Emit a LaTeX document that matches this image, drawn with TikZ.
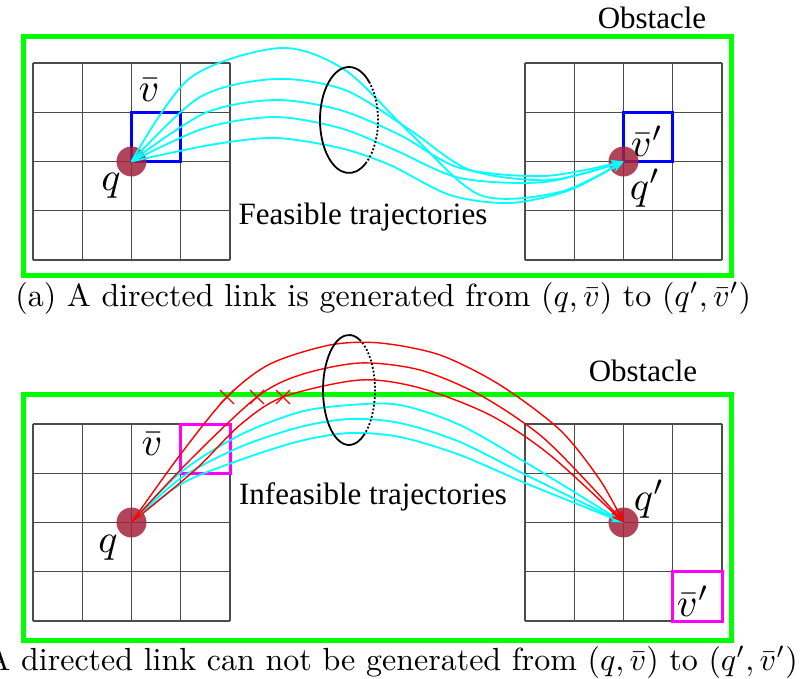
\documentclass[tikz,border=0pt]{standalone}
\usepackage{fontspec}
\usetikzlibrary{arrows.meta}
\newfontfamily\timesfont{Liberation Serif}
\definecolor{dotred}{RGB}{165,35,60}
\definecolor{trajcyan}{RGB}{0,255,255}
\definecolor{boxpink}{RGB}{255,0,255}
\definecolor{obstgreen}{RGB}{0,255,0}

\tikzset{
	obst/.style={draw=obstgreen, line width=5pt},
	cell/.style={draw=black!70, line width=1.1pt},
	traj/.style={trajcyan, line width=1.8pt, ->},
	bad/.style={red, line width=1.4pt, ->},
	cross/.style={red, line width=1.4pt},
	robot/.style={circle, fill=dotred, fill opacity=.85, minimum size=30pt, inner sep=0pt},
	lbl/.style={scale=4},
	txt/.style={font=\timesfont\fontsize{31}{31}\selectfont},
	capt/.style={scale=3.2}
}

\begin{document}
\begin{tikzpicture}[x=1pt, y=-1pt, >={Stealth[length=12pt,width=9pt]}]
	
	\def\cs{49.25}
	\useasboundingbox (0,0) rectangle (811,679);
	
	% obstacles
	\draw[obst] (23,37) rectangle (731,275);
	\draw[obst] (23,394) rectangle (731,640);
	
	% grids
	\foreach \ox/\oy in {33/63, 525/63, 33/424, 525/424}{
		\foreach \i in {0,...,4}{
			\draw[cell] (\ox+\i*\cs, \oy) -- (\ox+\i*\cs, \oy+4*\cs);
			\draw[cell] (\ox, \oy+\i*\cs) -- (\ox+4*\cs, \oy+\i*\cs);
		}
	}
	
	\draw[blue, line width=3pt] (33+2*\cs, 63+\cs) rectangle (33+3*\cs, 63+2*\cs);
	\draw[blue, line width=3pt] (525+2*\cs, 63+\cs) rectangle (525+3*\cs, 63+2*\cs);
	\draw[boxpink, line width=3pt] (33+3*\cs, 424) rectangle (33+4*\cs, 424+\cs);
	\draw[boxpink, line width=3pt] (525+3*\cs, 424+3*\cs) rectangle (525+4*\cs, 424+4*\cs);
	
	\coordinate (q) at (33+2*\cs, 63+2*\cs);
	\coordinate (qp) at (525+2*\cs, 63+2*\cs);
	\coordinate (q2) at (33+2*\cs, 424+2*\cs);
	\coordinate (qp2) at (525+2*\cs, 424+2*\cs);
	
	\foreach \c in {q,qp,q2,qp2}
		\node[robot] (\c-dot) at (\c) {};
	
	% feasible
	\draw[traj] plot[smooth] coordinates {(q) (190,78) (280,48) (345,70) (410,133) (480,195) (560,192) (qp)};
	\draw[traj] plot[smooth] coordinates {(q) (200,97) (275,79) (345,90) (410,130) (470,170) (550,180) (qp)};
	\draw[traj] plot[smooth] coordinates {(q) (205,113) (275,100) (340,110) (400,135) (460,168) (545,176) (qp)};
	\draw[traj] plot[smooth] coordinates {(q) (205,128) (275,117) (340,128) (395,150) (460,178) (545,182) (qp)};
	\draw[traj] plot[smooth] coordinates {(q) (210,145) (275,138) (340,148) (390,165) (450,195) (510,203) (570,190) (qp)};
	
	% infeasible
	\draw[traj] plot[smooth] coordinates {(q2) (181,472) (240,435) (300,412) (350,405) (400,405) (460,425) (530,465) (qp2)};
	\draw[traj] plot[smooth] coordinates {(q2) (181,478) (240,447) (300,427) (350,419) (400,423) (460,442) (530,477) (qp2)};
	\draw[traj] plot[smooth] coordinates {(q2) (181,484) (240,460) (300,441) (350,433) (400,437) (460,455) (530,485) (qp2)};
	\draw[bad] plot[smooth] coordinates {(q2) (180,455) (227,397) (270,364) (330,345) (380,343) (440,355) (500,385) (560,430) (600,480) (qp2)};
	\draw[bad] plot[smooth] coordinates {(q2) (190,460) (257,397) (300,375) (360,363) (420,370) (480,395) (540,435) (590,485) (qp2)};
	\draw[bad] plot[smooth] coordinates {(q2) (195,470) (240,425) (283,397) (360,380) (420,388) (490,415) (550,455) (qp2)};
	
	\foreach \cx in {227,257,283}
		\draw[cross] (\cx-7,390) -- (\cx+7,404) (\cx-7,404) -- (\cx+7,390);
	
	% ellipses
	\draw[line width=1.8pt] (349,120) ++(45:29pt and 53pt) arc[start angle=45, end angle=305, x radius=29, y radius=-53];
	\draw[line width=1.8pt, dotted] (349,120) ++(-55:29pt and 53pt) arc[start angle=-55, end angle=45, x radius=29, y radius=-53];
	\draw[line width=1.8pt] (349,390) ++(64:26pt and 55pt) arc[start angle=64, end angle=305, x radius=26, y radius=-55];
	\draw[line width=1.8pt, dotted] (349,390) ++(-55:26pt and 55pt) arc[start angle=-55, end angle=64, x radius=26, y radius=-55];
	
	% labels
	\node[lbl] (vb) at (149,90) {$\bar{v}$};
	\node[lbl] (ql) at (111,186) {$q$};
	\node[lbl] (vbp) at (647,141) {$\bar{v}'$};
	\node[lbl] (qpl) at (645,188) {$q'$};
	\node[lbl] (vb2) at (152,444) {$\bar{v}$};
	\node[lbl] (ql2) at (108,548) {$q$};
	\node[lbl] (qpl2) at (649,499) {$q'$};
	\node[lbl] (vbp2) at (693,601) {$\bar{v}'$};
	
	\node[txt] (obs) at (652,18) {Obstacle};
	\node[txt] (obs2) at (643,371) {Obstacle};
	\node[txt] (feas) at (363,217) {Feasible trajectories};
	\node[txt] (infeas) at (373,497) {Infeasible trajectories};
	
	\node[capt, anchor=base west] (capa) at (4,306) {(a) A directed link is generated from $(q,\bar{v})$ to $(q',\bar{v}')$};
	\node[capt, anchor=base east] (capb) at (809,670) {A directed link can not be generated from $(q,\bar{v})$ to $(q',\bar{v}')$};
	
\end{tikzpicture}
\end{document}
